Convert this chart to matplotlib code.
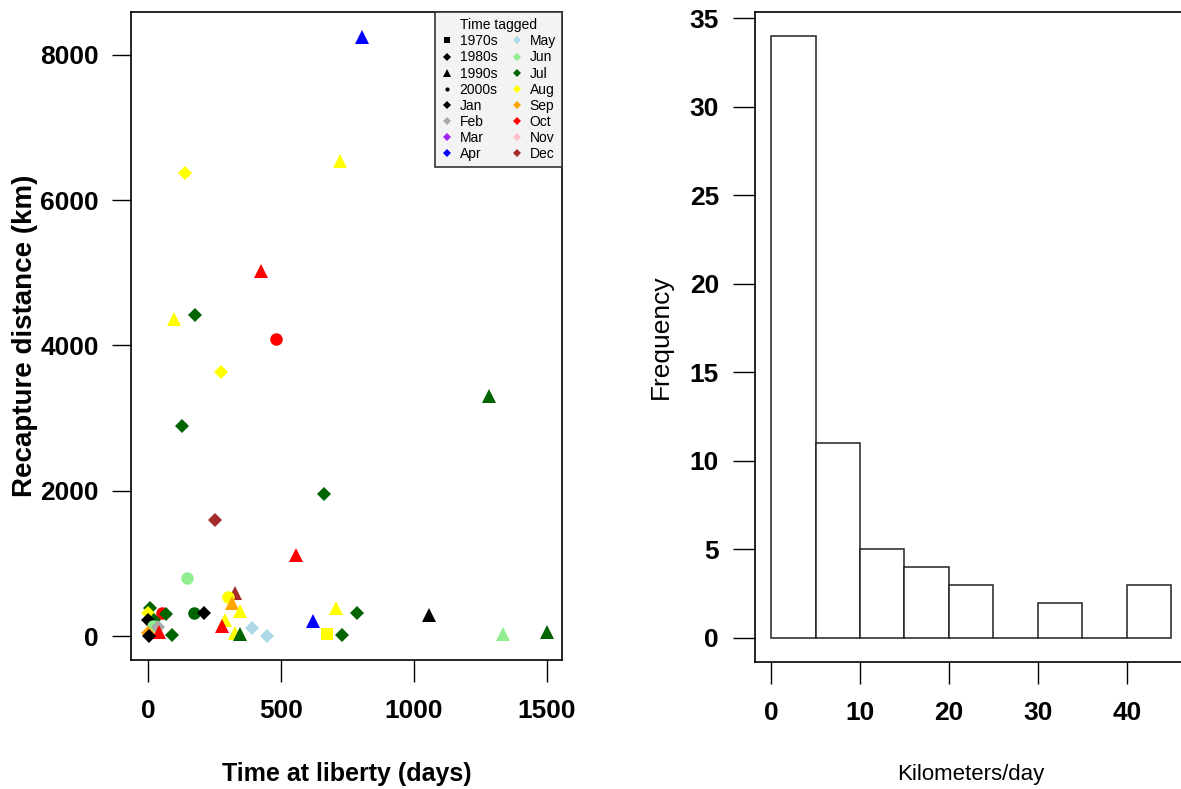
import matplotlib
matplotlib.use("Agg")
import matplotlib.pyplot as plt
from matplotlib.lines import Line2D

plt.rcParams['font.family'] = ['Liberation Sans', 'DejaVu Sans']

# ---------------- data ----------------
days = [805, 139, 722, 425, 98, 177, 481, 274, 128, 1282,
        662, 252, 556, 145, 7, 0, 54, 66, 23, 0,
        20, 36, 43, 0, 5, 89, 172, 210, 327, 302,
        315, 346, 289, 277, 327, 346, 390, 446, 621, 705,
        784, 674, 730, 1057, 1336, 1499]
distance_km = [8240, 6370, 6535, 5030, 4360, 4425, 4083, 3630, 2890, 3300,
               1959, 1603, 1110, 795, 390, 315, 320, 305, 224, 215,
               140, 125, 55, 40, 0, 20, 315, 315, 590, 540,
               460, 338, 224, 133, 41, 25, 110, 5, 210, 384,
               315, 25, 10, 283, 27, 55]
decade = ['1990s', '1980s', '1990s', '1990s', '1990s', '1980s', '2000s', '1980s', '1980s', '1990s',
          '1980s', '1980s', '1990s', '2000s', '1980s', '1980s', '2000s', '1980s', '1980s', '1980s',
          '2000s', '1980s', '1990s', '1980s', '1980s', '1980s', '2000s', '1980s', '1990s', '2000s',
          '1990s', '1990s', '1990s', '1990s', '1990s', '1990s', '1980s', '1980s', '1990s', '1990s',
          '1980s', '1970s', '1980s', '1990s', '1990s', '1990s']
month = ['Apr', 'Aug', 'Aug', 'Oct', 'Aug', 'Jul', 'Oct', 'Aug', 'Jul', 'Jul',
         'Jul', 'Dec', 'Oct', 'Jun', 'Jul', 'Aug', 'Oct', 'Jul', 'Jul', 'Jan',
         'Jun', 'Feb', 'Oct', 'Sep', 'Jan', 'Jul', 'Jul', 'Jan', 'Dec', 'Aug',
         'Sep', 'Aug', 'Aug', 'Oct', 'Aug', 'Jul', 'May', 'May', 'Apr', 'Aug',
         'Jul', 'Aug', 'Jul', 'Jan', 'Jun', 'Jul']

decade_labels = ['1970s', '1980s', '1990s', '2000s']
month_labels = ['Jan', 'Feb', 'Mar', 'Apr', 'May', 'Jun',
                'Jul', 'Aug', 'Sep', 'Oct', 'Nov', 'Dec']

hist_edges = [0, 5, 10, 15, 20, 25, 30, 35, 40, 45]
hist_counts = [34, 11, 5, 4, 3, 0, 2, 0, 3]

# ---------------- styles ----------------
decade_marker = {'1970s': 's', '1980s': 'D', '1990s': '^', '2000s': 'o'}
decade_ms = {'1970s': 9, '1980s': 7, '1990s': 10, '2000s': 9}
month_color = {'Jan': 'black', 'Feb': '#a9a9a9', 'Mar': '#a020f0', 'Apr': 'blue',
               'May': '#add8e6', 'Jun': '#90ee90', 'Jul': '#006400', 'Aug': '#ffff00',
               'Sep': '#ffa500', 'Oct': 'red', 'Nov': '#ffc0cb', 'Dec': '#a52a2a'}

W, H = 1181, 789
fig = plt.figure(figsize=(W / 100, H / 100), dpi=100)

tick_fs = 19

# ---------------- left scatter ----------------
ax1 = fig.add_axes([131 / W, 1 - 660 / H, (562 - 131) / W, (660 - 12) / H])
for x, y, d, m in zip(days, distance_km, decade, month):
    ax1.plot(x, y, linestyle='none', marker=decade_marker[d], ms=decade_ms[d],
             color=month_color[m], markeredgewidth=0)
ax1.set_xlim(-64, 1556)
ax1.set_ylim(-330, 8590)
ax1.set_xticks([0, 500, 1000, 1500])
ax1.set_yticks([0, 2000, 4000, 6000, 8000])
ax1.tick_params(axis='x', length=16, width=1, pad=12, labelsize=tick_fs)
ax1.tick_params(axis='y', length=14, width=1, pad=9, labelsize=tick_fs)
for lab in ax1.get_xticklabels() + ax1.get_yticklabels():
    lab.set_fontweight('bold')
ax1.set_xlabel('Time at liberty (days)', fontsize=18, fontweight='bold', labelpad=28)
ax1.set_ylabel('Recapture distance (km)', fontsize=20, fontweight='bold', labelpad=2)
for sp in ax1.spines.values():
    sp.set_linewidth(1.2)

handles = []
for d in decade_labels:
    mk = decade_marker[d]
    ms = {'s': 5, 'D': 4.5, '^': 6, 'o': 3}[mk]
    handles.append(Line2D([], [], linestyle='none', marker=mk, ms=ms,
                          color='black', markeredgewidth=0, label=d))
for m in month_labels:
    handles.append(Line2D([], [], linestyle='none', marker='D', ms=4.5,
                          color=month_color[m], markeredgewidth=0, label=m))
leg = ax1.legend(handles=handles, ncol=2, loc='upper right', title='Time tagged',
                 fontsize=10, title_fontsize=10, frameon=True, fancybox=False,
                 borderaxespad=0, handlelength=0.8, handletextpad=0.5,
                 columnspacing=1.0, labelspacing=0.15, borderpad=0.45)
leg.get_frame().set_facecolor('#f3f3f3')
leg.get_frame().set_edgecolor('#333333')
leg.get_frame().set_linewidth(1.2)
leg.get_frame().set_alpha(1)

# ---------------- right histogram ----------------
x0 = 772.8
ppu = 8.86
left_px = 755
right_px = x0 + 46.8 * ppu
ax2 = fig.add_axes([left_px / W, 1 - 662 / H, (right_px - left_px) / W, (662 - 12) / H])
ax2.bar(hist_edges[:-1], hist_counts, width=5, align='edge',
        facecolor='white', edgecolor='#222222', linewidth=1.1)
ax2.set_xlim(-1.8, 46.8)
ax2.set_ylim(-1.36, 35.36)
ax2.set_xticks([0, 10, 20, 30, 40])
ax2.set_yticks([0, 5, 10, 15, 20, 25, 30, 35])
ax2.tick_params(axis='x', length=16, width=1, pad=12, labelsize=tick_fs)
ax2.tick_params(axis='y', length=16, width=1, pad=10, labelsize=tick_fs)
for lab in ax2.get_xticklabels() + ax2.get_yticklabels():
    lab.set_fontweight('bold')
ax2.set_xlabel('Kilometers/day', fontsize=16, labelpad=28)
ax2.set_ylabel('Frequency', fontsize=19, labelpad=12)
for sp in ax2.spines.values():
    sp.set_linewidth(1.2)

fig.savefig('out.png', dpi=100)
